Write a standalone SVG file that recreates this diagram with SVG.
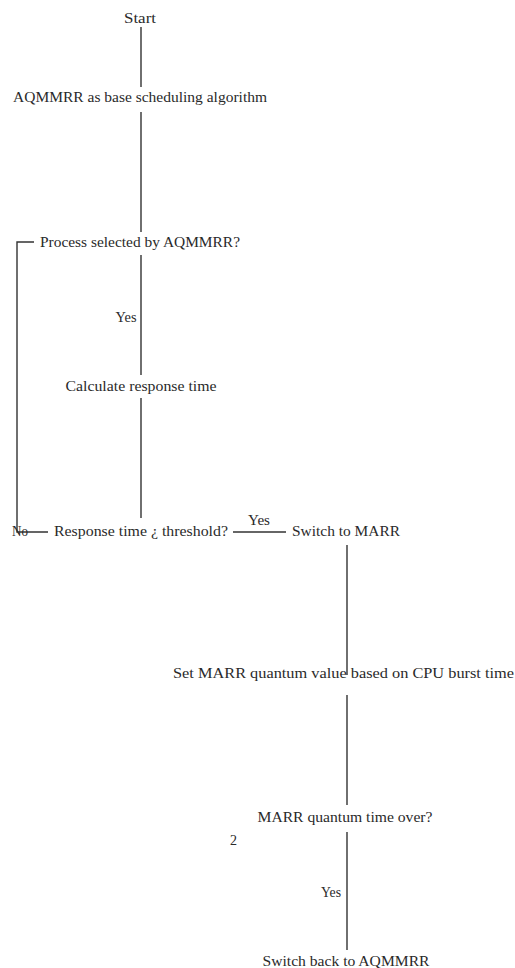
<svg xmlns="http://www.w3.org/2000/svg" width="515" height="968" viewBox="0 0 515 968">
<style>
text{font-family:"Liberation Serif","DejaVu Serif",serif;font-size:14px;fill:#2a2a2a;}
.c{text-anchor:middle;}
.l{stroke:#333;stroke-width:1.4;fill:none;}
</style>
<rect width="515" height="968" fill="#fff"/>
<g id="connectors">
<path class="l" d="M141 27V87"/>
<path class="l" d="M141 112V232"/>
<path class="l" d="M141 255V375"/>
<path class="l" d="M141 398V518"/>
<path class="l" d="M34 242H17V532H48"/>
<path class="l" d="M233 532H286"/>
<path class="l" d="M347 545V675"/>
<path class="l" d="M347 695V805"/>
<path class="l" d="M347 832V950"/>
</g>
<g id="start"><text class="c" x="140" y="23" textLength="32" lengthAdjust="spacingAndGlyphs">Start</text></g>
<g id="base"><text class="c" x="140" y="102" textLength="254" lengthAdjust="spacingAndGlyphs">AQMMRR as base scheduling algorithm</text></g>
<g id="process-selected"><text class="c" x="140" y="247" textLength="200" lengthAdjust="spacingAndGlyphs">Process selected by AQMMRR?</text></g>
<g id="yes1"><text class="c" x="126" y="322" textLength="21" lengthAdjust="spacingAndGlyphs">Yes</text></g>
<g id="calculate"><text class="c" x="141" y="391" textLength="151" lengthAdjust="spacingAndGlyphs">Calculate response time</text></g>
<g id="response-threshold"><text class="c" x="141" y="536" textLength="174" lengthAdjust="spacingAndGlyphs">Response time ¿ threshold?</text></g>
<g id="no"><text x="12" y="536" textLength="16" lengthAdjust="spacingAndGlyphs">No</text></g>
<g id="yes2"><text class="c" x="259" y="525" textLength="22" lengthAdjust="spacingAndGlyphs">Yes</text></g>
<g id="switch-marr"><text x="292" y="536" textLength="108" lengthAdjust="spacingAndGlyphs">Switch to MARR</text></g>
<g id="set-quantum"><text x="173" y="678" textLength="341" lengthAdjust="spacingAndGlyphs">Set MARR quantum value based on CPU burst time</text></g>
<g id="quantum-over"><text class="c" x="345" y="822" textLength="175" lengthAdjust="spacingAndGlyphs">MARR quantum time over?</text></g>
<g id="page-num"><text x="230" y="845">2</text></g>
<g id="yes3"><text class="c" x="331" y="897" textLength="20" lengthAdjust="spacingAndGlyphs">Yes</text></g>
<g id="switch-back"><text class="c" x="346" y="966" textLength="167" lengthAdjust="spacingAndGlyphs">Switch back to AQMMRR</text></g>
</svg>
